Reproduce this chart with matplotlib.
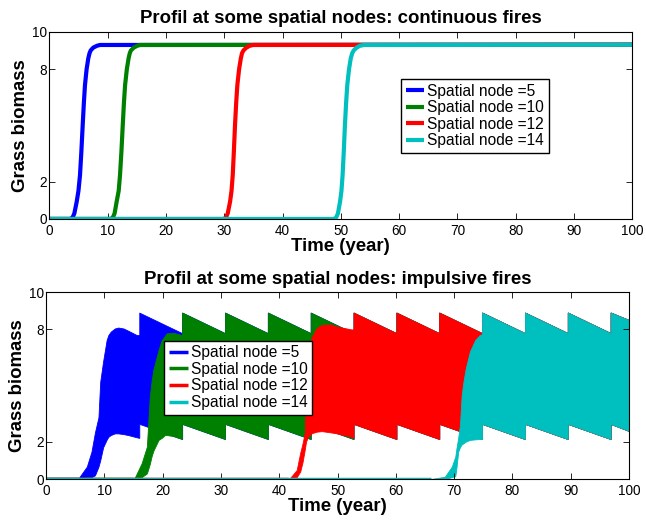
import numpy as np
import matplotlib.pyplot as plt

plt.rcParams['font.family'] = ['Liberation Sans', 'DejaVu Sans']

labels = ['Spatial node =5', 'Spatial node =10', 'Spatial node =12', 'Spatial node =14']
colors = ['#0000ff', '#008000', '#ff0000', '#00bfbf']

# continuous fires: curves
cont_t = [
    [0, 3.6, 4.0, 4.3, 4.7, 5.0, 5.27, 5.5, 5.73, 5.93, 6.12, 6.4, 6.69, 6.9, 7.1, 7.55, 8.2, 8.7, 100],
    [0, 10.5, 10.9, 11.2, 11.55, 11.9, 12.13, 12.37, 12.6, 12.8, 13.0, 13.3, 13.6, 13.8, 14.0, 14.5, 15.1, 15.6, 100],
    [0, 29.9, 30.3, 30.6, 31.0, 31.25, 31.46, 31.65, 31.85, 32.05, 32.25, 32.55, 32.85, 33.05, 33.3, 33.8, 34.4, 35.0, 100],
    [0, 48.8, 49.2, 49.5, 49.86, 50.1, 50.3, 50.5, 50.7, 50.9, 51.1, 51.4, 51.7, 51.95, 52.2, 52.7, 53.3, 54.0, 100],
]
cont_v = [
    [0, 0, 0.08, 0.3, 0.92, 1.5, 2.35, 3.6, 5.02, 6.2, 7.15, 8.0, 8.58, 8.85, 9.0, 9.15, 9.25, 9.29, 9.3],
    [0, 0, 0.08, 0.3, 0.92, 1.5, 2.35, 3.6, 5.02, 6.2, 7.15, 8.0, 8.58, 8.85, 9.0, 9.15, 9.25, 9.29, 9.3],
    [0, 0, 0.08, 0.3, 0.92, 1.5, 2.35, 3.6, 5.02, 6.2, 7.15, 8.0, 8.58, 8.85, 9.0, 9.15, 9.25, 9.29, 9.3],
    [0, 0, 0.08, 0.3, 0.92, 1.5, 2.35, 3.6, 5.02, 6.2, 7.15, 8.0, 8.58, 8.85, 9.0, 9.15, 9.25, 9.29, 9.3],
]

# impulsive fires: envelope of the fast oscillation, before the first full fire
rise_t = [
    [0, 5.5, 6.4, 7.0, 7.8, 8.4, 9.0, 9.3, 9.8, 10.4, 10.7, 11.1, 11.8, 12.4, 13.3, 14.1, 15.55, 16.0],
    [0, 15.0, 15.3, 16.4, 17.3, 17.8, 18.1, 18.4, 19.3, 19.85, 20.4, 20.7, 21.8, 23.35],
    [0, 41.5, 41.85, 43.0, 43.6, 44.0, 44.4, 44.6, 45.0, 45.6, 46.4, 47.3, 48.7, 49.9, 52.4, 52.75],
    [0, 66.0, 68.4, 69.6, 70.2, 70.4, 70.7, 71.0, 71.3, 71.6, 72.0, 72.7, 73.6, 74.4, 74.8],
]
rise_up = [
    [0, 0, 0.4, 0.66, 1.46, 2.5, 3.3, 5.2, 6.3, 7.43, 7.7, 7.88, 8.05, 8.1, 8.05, 7.93, 7.7, 7.7],
    [0, 0, 0.12, 0.84, 1.73, 4.4, 5.2, 5.83, 6.9, 7.43, 7.65, 7.79, 7.82, 7.7],
    [0, 0, 0.05, 0.48, 1.4, 1.9, 2.5, 6.0, 6.9, 7.6, 8.06, 8.24, 8.27, 8.15, 8.0, 8.0],
    [0, 0, 0.12, 0.66, 1.2, 1.64, 2.2, 2.89, 4.49, 5.2, 5.92, 6.81, 7.43, 7.7, 7.74],
]
rise_lo = [
    [0, 0, 0.05, 0.1, 0.1, 0.2, 0.66, 1.0, 1.7, 2.1, 2.26, 2.35, 2.44, 2.44, 2.4, 2.35, 2.23, 2.2],
    [0, 0, 0, 0.1, 0.3, 0.8, 1.2, 1.5, 2.09, 2.2, 2.35, 2.35, 2.3, 2.14],
    [0, 0, 0, 0.1, 0.4, 0.9, 1.6, 2.0, 2.3, 2.45, 2.53, 2.56, 2.5, 2.44, 2.26, 2.2],
    [0, 0, 0, 0.1, 0.15, 0.6, 1.46, 1.7, 1.85, 1.91, 2.0, 2.09, 2.12, 2.14, 2.14],
]

# fire dates and sawtooth levels
fire_t = [16.0, 23.35, 30.7, 38.05, 45.4, 52.75, 60.1, 67.45, 74.8, 82.15, 89.5, 96.85]
peak_up, tail_up = 8.9, 7.8
peak_lo, tail_lo = 2.95, 2.14
end_up, end_lo = 8.5, 2.57


def style(ax, title):
    ax.set_xlim(0, 100)
    ax.set_ylim(0, 10)
    ax.set_xticks(range(0, 101, 10))
    ax.set_yticks([0, 2, 8, 10])
    ax.tick_params(direction='in', top=True, right=True, length=4, width=0.6,
                   labelsize=9.8)
    ax.tick_params(axis='x', pad=3.5)
    ax.tick_params(axis='y', pad=1.5)
    for s in ax.spines.values():
        s.set_linewidth(0.8)
    ax.set_title(title, fontsize=13.4, fontweight='bold', pad=6)
    ax.set_xlabel('Time (year)', fontsize=13.4, fontweight='bold', labelpad=0)
    ax.set_ylabel('Grass biomass', fontsize=13.4, fontweight='bold', labelpad=2)


fig = plt.figure(figsize=(6.46, 5.21), dpi=100)
ax1 = fig.add_axes([0.0763, 0.5797, 0.9027, 0.3595])
ax2 = fig.add_axes([0.0712, 0.0806, 0.9025, 0.3589])

for t, v, c, lab in zip(cont_t, cont_v, colors, labels):
    ax1.plot(t, v, color=c, lw=3, label=lab, solid_capstyle='butt',
             solid_joinstyle='round')
style(ax1, 'Profil at some spatial nodes: continuous fires')
ax1.legend(loc='upper left', bbox_to_anchor=(0.603, 0.747), borderaxespad=0,
           fontsize=11.2, handlelength=1.2, handletextpad=0.2, labelspacing=0.1,
           borderpad=0.3, fancybox=False, framealpha=1, edgecolor='black')

for t, up, lo, c, lab in zip(rise_t, rise_up, rise_lo, colors, labels):
    tt, uu, ll = list(t), list(up), list(lo)
    fires = [f for f in fire_t if f >= t[-1] - 1e-9]
    for i, f in enumerate(fires):
        tt.append(f); uu.append(peak_up); ll.append(peak_lo)
        if i + 1 < len(fires):
            tt.append(fires[i + 1]); uu.append(tail_up); ll.append(tail_lo)
    tt.append(100); uu.append(end_up); ll.append(end_lo)
    ax2.fill_between(tt, ll, uu, color=c, lw=0.6, edgecolor=c)
    ax2.plot(t[:2], up[:2], color=c, lw=2.5, label=lab, solid_capstyle='butt')
style(ax2, 'Profil at some spatial nodes: impulsive fires')
ax2.legend(loc='upper left', bbox_to_anchor=(0.203, 0.74), borderaxespad=0,
           fontsize=11.2, handlelength=1.2, handletextpad=0.2, labelspacing=0.1,
           borderpad=0.3, fancybox=False, framealpha=1, edgecolor='black')

fig.savefig('out.png', dpi=100)
